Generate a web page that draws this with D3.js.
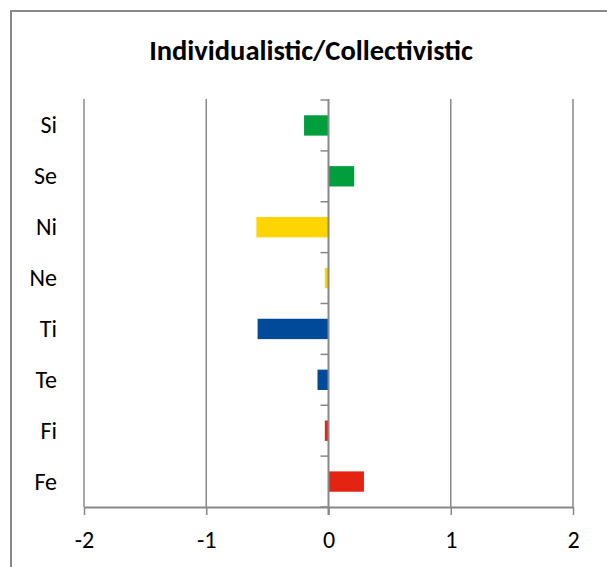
<!DOCTYPE html>
<html>
<head>
<meta charset="utf-8">
<script src="https://cdn.jsdelivr.net/npm/d3@7"></script>
<style>
  html, body { margin: 0; padding: 0; background: #fff; }
  svg { display: block; }
  text { font-family: Carlito, Calibri, Lato, "Open Sans", sans-serif; fill: #000; }
</style>
</head>
<body>
<svg id="chart" width="607" height="567"></svg>
<script>
// Functions, top to bottom
const categories = ["Si", "Se", "Ni", "Ne", "Ti", "Te", "Fi", "Fe"];
const values = [-0.20, 0.21, -0.59, -0.03, -0.58, -0.09, -0.03, 0.29];
const barColors = ["#009E3D", "#009E3D", "#FFD500", "#FFD500", "#004A99", "#004A99", "#E42313", "#E42313"];
const tickValues = [-2, -1, 0, 1, 2];
const tickLabels = ["-2", "-1", "0", "1", "2"];
const chartTitle = "Individualistic/Collectivistic";

const svg = d3.select("#chart");
const gridColor = "#888888";
const labelFont = "Carlito, Calibri, Lato, 'Open Sans', sans-serif";

const x = d3.scaleLinear().domain([-2, 2]).range([84, 573]);
const y = d3.scaleBand().domain(categories).range([100, 507])
  .paddingInner(0.6).paddingOuter(0.3);
const step = y.step();

// Chart frame
svg.append("path")
  .attr("d", "M11,567 V11 H607")
  .attr("fill", "none")
  .attr("stroke", gridColor)
  .attr("stroke-width", 2);

// Title
svg.append("text")
  .attr("x", 311)
  .attr("y", 60)
  .attr("text-anchor", "middle")
  .attr("font-weight", "bold")
  .attr("font-size", 28.5)
  .text(chartTitle);

// Vertical gridlines
svg.append("g")
  .selectAll("line")
  .data(tickValues.filter(v => v !== 0))
  .join("line")
  .attr("x1", d => x(d)).attr("x2", d => x(d))
  .attr("y1", 99).attr("y2", 507)
  .attr("stroke", gridColor)
  .attr("stroke-width", 1.5);

// Bars
svg.append("g")
  .selectAll("rect")
  .data(categories.map((c, i) => ({ c, v: values[i], color: barColors[i] })))
  .join("rect")
  .attr("x", d => x(Math.min(0, d.v)))
  .attr("width", d => Math.abs(x(d.v) - x(0)))
  .attr("y", d => y(d.c))
  .attr("height", y.bandwidth())
  .attr("fill", d => d.color);

// Horizontal value axis along the bottom
const xAxis = d3.axisBottom(x)
  .tickValues(tickValues)
  .tickFormat((d, i) => tickLabels[i])
  .tickSize(8)
  .tickSizeOuter(0)
  .tickPadding(16);
const gx = svg.append("g")
  .attr("transform", "translate(0,507)")
  .call(xAxis);
gx.select(".domain").attr("stroke", gridColor).attr("stroke-width", 2);
gx.selectAll(".tick line").attr("stroke", gridColor).attr("stroke-width", 1.5);
gx.selectAll(".tick text")
  .attr("font-size", 24)
  .attr("font-family", labelFont)
  .attr("fill", "#000");

// Category axis crossing at zero, with ticks between categories
const boundaries = d3.range(categories.length + 1).map(i => 100 + i * step);
const gy = svg.append("g");
gy.append("line")
  .attr("x1", x(0)).attr("x2", x(0))
  .attr("y1", 99).attr("y2", 515)
  .attr("stroke", gridColor)
  .attr("stroke-width", 2);
gy.selectAll("line.tick")
  .data(boundaries)
  .join("line")
  .attr("class", "tick")
  .attr("x1", x(0) - 8).attr("x2", x(0))
  .attr("y1", d => d).attr("y2", d => d)
  .attr("stroke", gridColor)
  .attr("stroke-width", 1.5);

// Category labels at the left
svg.append("g")
  .selectAll("text")
  .data(categories)
  .join("text")
  .attr("x", 57)
  .attr("y", d => y(d) + y.bandwidth() / 2 + 8)
  .attr("text-anchor", "end")
  .attr("font-size", 24)
  .text(d => d);
</script>
</body>
</html>
